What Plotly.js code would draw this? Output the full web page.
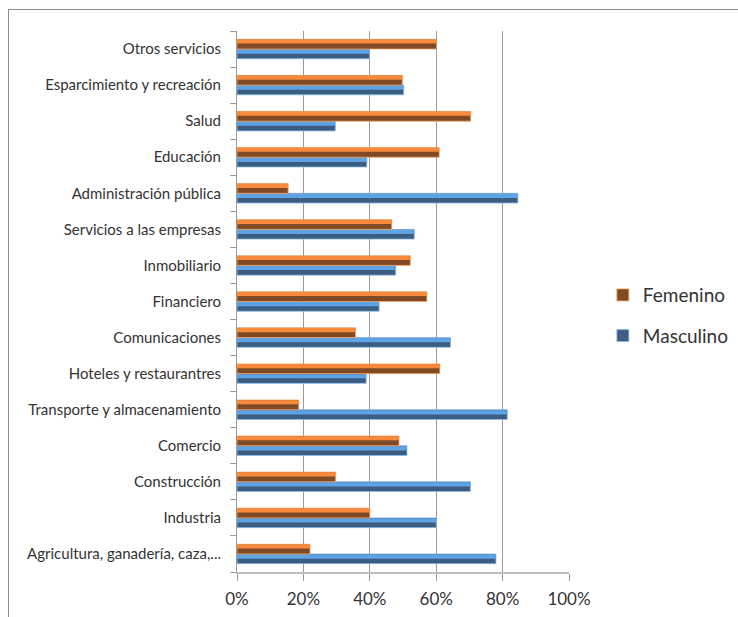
<!DOCTYPE html>
<html>
<head>
<meta charset="utf-8">
<script src="https://cdn.plot.ly/plotly-3.0.1.min.js"></script>
<style>
  html, body { margin: 0; padding: 0; background: #fff; }
  #frame { position: absolute; left: 8px; top: 9px; width: 900px; height: 900px;
           border-left: 1px solid #8c8c8c; border-top: 1px solid #8c8c8c; }
  #chart { position: absolute; left: 0; top: 0; width: 738px; height: 617px; }
</style>
</head>
<body>
<div id="frame"></div>
<div id="chart"></div>
<script>
// Categories, bottom to top
const categories = [
  "Agricultura, ganadería, caza,...",
  "Industria",
  "Construcción",
  "Comercio",
  "Transporte y almacenamiento",
  "Hoteles y restaurantres",
  "Comunicaciones",
  "Financiero",
  "Inmobiliario",
  "Servicios a las empresas",
  "Administración pública",
  "Educación",
  "Salud",
  "Esparcimiento y recreación",
  "Otros servicios"
];
const femenino  = [0.22, 0.40, 0.297, 0.488, 0.186, 0.611, 0.357, 0.572, 0.522, 0.466, 0.154, 0.609, 0.704, 0.498, 0.601];
const masculino = [0.78, 0.60, 0.703, 0.512, 0.814, 0.389, 0.643, 0.428, 0.478, 0.534, 0.846, 0.391, 0.296, 0.502, 0.399];
const xTicks = [0, 0.2, 0.4, 0.6, 0.8, 1.0];
const xTickLabels = ["0%", "20%", "40%", "60%", "80%", "100%"];

const BW = 0.27;
const traces = [
  { type: "bar", orientation: "h", y: categories, x: masculino, name: "Masculino",
    legendgroup: "m", legendrank: 2, width: BW, offset: -BW,
    marker: { color: "#3C5D80", line: { color: "#8DBBE8", width: 0.8 } },
    hovertemplate: "%{y}: %{x:.0%}<extra>Masculino</extra>" },
  { type: "bar", orientation: "h", y: categories, x: masculino, showlegend: false,
    legendgroup: "m", width: BW / 2 - 0.02, offset: -BW / 2 + 0.005, hoverinfo: "skip",
    marker: { color: "#5DA3E5", line: { width: 0 } } },
  { type: "bar", orientation: "h", y: categories, x: femenino, name: "Femenino",
    legendgroup: "f", legendrank: 1, width: BW, offset: 0,
    marker: { color: "#7F4A24", line: { color: "#F7A869", width: 0.8 } },
    hovertemplate: "%{y}: %{x:.0%}<extra>Femenino</extra>" },
  { type: "bar", orientation: "h", y: categories, x: femenino, showlegend: false,
    legendgroup: "f", width: BW / 2 - 0.02, offset: BW / 2 + 0.015, hoverinfo: "skip",
    marker: { color: "#FA8A3B", line: { width: 0 } } }
];

const layout = {
  width: 738, height: 617,
  margin: { l: 237, r: 169, t: 31, b: 45, pad: 0, autoexpand: false },
  paper_bgcolor: "rgba(0,0,0,0)",
  plot_bgcolor: "rgba(0,0,0,0)",
  barmode: "overlay",
  font: { family: "Lato, 'Open Sans', sans-serif", color: "#333" },
  xaxis: {
    range: [0, 1.0], tickvals: xTicks, ticktext: xTickLabels, automargin: false,
    showgrid: true, gridcolor: "#9a9a9a", gridwidth: 1,
    zeroline: false, showline: true, linecolor: "#bdbdbd", linewidth: 1.5,
    ticks: "outside", ticklen: 7, tickcolor: "#9a9a9a",
    tickfont: { size: 17, color: "#333" }, ticklabelstandoff: 4
  },
  yaxis: {
    type: "category", categoryorder: "array", categoryarray: categories, automargin: false,
    showgrid: false, zeroline: false, showline: true, linecolor: "#9a9a9a", linewidth: 1,
    ticks: "outside", tickson: "boundaries", ticklen: 6, tickcolor: "#9a9a9a",
    tickfont: { size: 15, color: "#333" }, ticklabelstandoff: 12
  },
  showlegend: true,
  legend: {
    x: 1.102, xanchor: "left", y: 0.474, yanchor: "middle",
    traceorder: "grouped", tracegroupgap: 13,
    font: { size: 19, color: "#333" }, bgcolor: "rgba(0,0,0,0)"
  }
};

Plotly.newPlot("chart", traces, layout, { displayModeBar: false, staticPlot: false });
</script>
</body>
</html>
